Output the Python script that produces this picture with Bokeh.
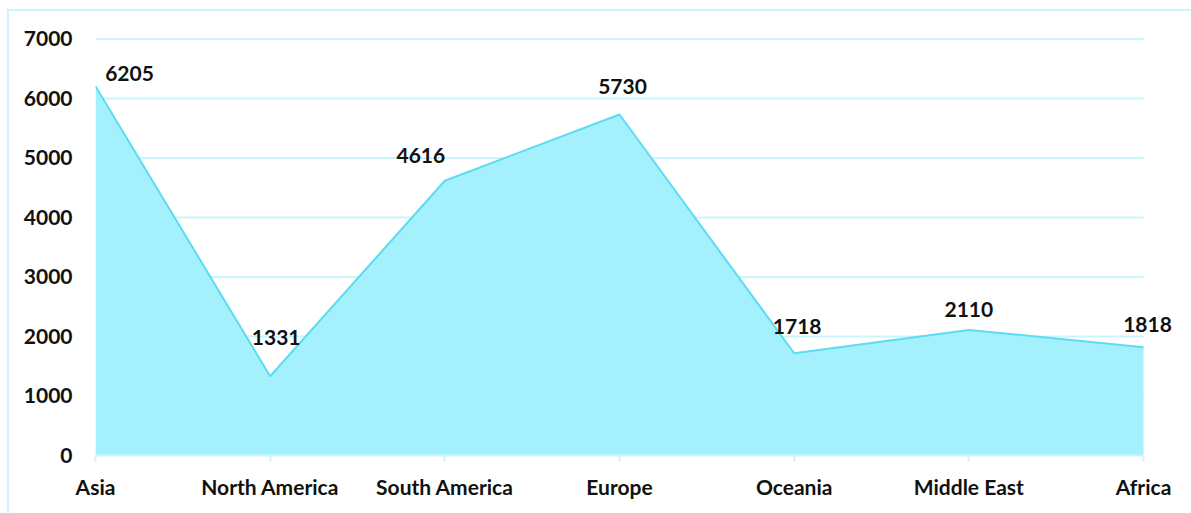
from bokeh.plotting import figure
from bokeh.models import Range1d, FixedTicker, ColumnDataSource, LabelSet
from bokeh.core.properties import value
from bokeh.embed import file_html
from bokeh.resources import INLINE

regions = ["Asia", "North America", "South America", "Europe", "Oceania", "Middle East", "Africa"]
values = [6205, 1331, 4616, 5730, 1718, 2110, 1818]
y_ticks = [0, 1000, 2000, 3000, 4000, 5000, 6000, 7000]
label_dx = [34, 6, -24, 3, 3, 0, 4]
label_dy = [13, 39, 25, 28, 27, 20, 23]

FONT = "Lato"
GRID = "#c9f5fd"
FS = "21px"

xs = list(range(len(regions)))
last = len(regions) - 1
src = ColumnDataSource(dict(x=xs, y=values, lab=[str(v) for v in values],
                            dx=label_dx, dy=label_dy))
grid_src = ColumnDataSource(dict(x0=[0] * len(y_ticks), x1=[last] * len(y_ticks), y=y_ticks))

W, H = 1184, 504
p = figure(width=W, height=H, output_backend="svg", toolbar_location=None,
           x_range=Range1d(0, last * (1182 - 86) / (1134 - 86)),
           y_range=Range1d(0, 7040),
           min_border_left=86, min_border_right=2, min_border_top=25, min_border_bottom=60)
p.styles = {"border-top": "2px solid " + GRID, "border-left": "2px solid " + GRID,
            "margin-left": "7px", "margin-top": "9px"}
p.outline_line_color = None
p.background_fill_color = "white"
p.border_fill_color = "white"

p.segment(x0="x0", x1="x1", y0="y", y1="y", source=grid_src, line_color=GRID, line_width=2)
p.varea(x="x", y1=0, y2="y", source=src, fill_color="#a4f0fc")
p.line(x="x", y="y", source=src, line_color="#5cdcf3", line_width=2)

labels = LabelSet(x="x", y="y", text="lab", source=src, x_offset="dx", y_offset="dy",
                  text_align="center", text_baseline="middle",
                  text_font=value(FONT), text_font_style="bold", text_font_size=FS,
                  text_color="#111111")
p.add_layout(labels)

p.xaxis.ticker = FixedTicker(ticks=xs)
p.xaxis.bounds = (0, last)
p.xaxis.major_label_overrides = {i: r for i, r in enumerate(regions)}
p.xaxis.axis_line_color = GRID
p.xaxis.axis_line_width = 2
p.xaxis.major_tick_line_color = GRID
p.xaxis.major_tick_line_width = 2
p.xaxis.major_tick_in = 0
p.xaxis.major_tick_out = 6
p.xaxis.minor_tick_line_color = None
p.xaxis.major_label_standoff = 12
p.xaxis.major_label_text_font = FONT
p.xaxis.major_label_text_font_style = "bold"
p.xaxis.major_label_text_font_size = FS
p.xaxis.major_label_text_color = "#111111"

p.yaxis.ticker = FixedTicker(ticks=y_ticks)
p.yaxis.axis_line_color = None
p.yaxis.major_tick_line_color = None
p.yaxis.minor_tick_line_color = None
p.yaxis.major_label_standoff = 17
p.yaxis.major_label_text_font = FONT
p.yaxis.major_label_text_font_style = "bold"
p.yaxis.major_label_text_font_size = FS
p.yaxis.major_label_text_color = "#111111"

p.xgrid.grid_line_color = None
p.ygrid.grid_line_color = None

open("out.html", "w").write(file_html(p, INLINE))
